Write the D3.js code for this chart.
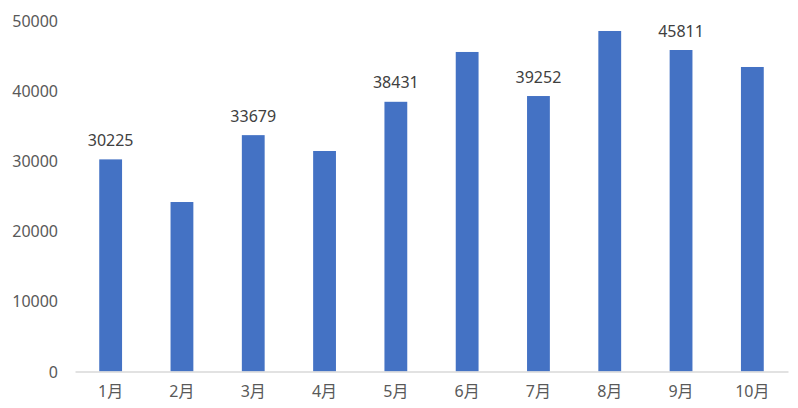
<!DOCTYPE html>
<html><head><meta charset="utf-8">
<script src="https://cdn.jsdelivr.net/npm/d3@7/dist/d3.min.js"></script>
<style>body{margin:0;background:#fff}svg{display:block}text{font-family:"Noto Sans","Noto Sans CJK SC",sans-serif}</style>
</head><body><svg id="c" width="798" height="408"></svg>
<script>
const categories = ["1月","2月","3月","4月","5月","6月","7月","8月","9月","10月"];
const values = [30225,24150,33679,31420,38431,45530,39252,48520,45811,43390];
const showLabel = [true,false,true,false,true,false,true,false,true,false];
const yTicks = [0,10000,20000,30000,40000,50000];

const svg = d3.select("#c");
const x = d3.scaleBand().domain(categories).range([75,788]).paddingInner(0.68).paddingOuter(0.34);
const y = d3.scaleLinear().domain([0,50000]).range([371.5,20.6]);

svg.selectAll("rect.bar").data(values).join("rect")
  .attr("class","bar")
  .attr("x",(d,i)=>x(categories[i]))
  .attr("width",x.bandwidth())
  .attr("y",d=>y(d))
  .attr("height",d=>y(0)-y(d))
  .attr("fill","#4472c4");

const yAxis = svg.append("g").attr("transform","translate(58,0)")
  .call(d3.axisLeft(y).tickValues(yTicks).tickSize(0).tickPadding(0).tickFormat(d3.format("d")));
yAxis.select(".domain").remove();
yAxis.selectAll("text").attr("fill","#595959").style("font-size","16px").attr("dy","0.35em");

const xAxis = svg.append("g").attr("transform",`translate(0,${y(0)})`)
  .call(d3.axisBottom(x).tickSize(0).tickPadding(14));
xAxis.select(".domain").attr("stroke","#d9d9d9").attr("stroke-width",1.5);
xAxis.selectAll("text").attr("fill","#595959").style("font-size","16px");

svg.selectAll("text.lbl").data(values.map((v,i)=>({v,i})).filter(d=>showLabel[d.i])).join("text")
  .attr("class","lbl")
  .attr("x",d=>x(categories[d.i])+x.bandwidth()/2)
  .attr("y",d=>y(d.v)-19)
  .attr("dy","0.35em")
  .attr("text-anchor","middle")
  .attr("fill","#404040")
  .style("font-size","16px")
  .text(d=>d.v);
</script></body></html>
